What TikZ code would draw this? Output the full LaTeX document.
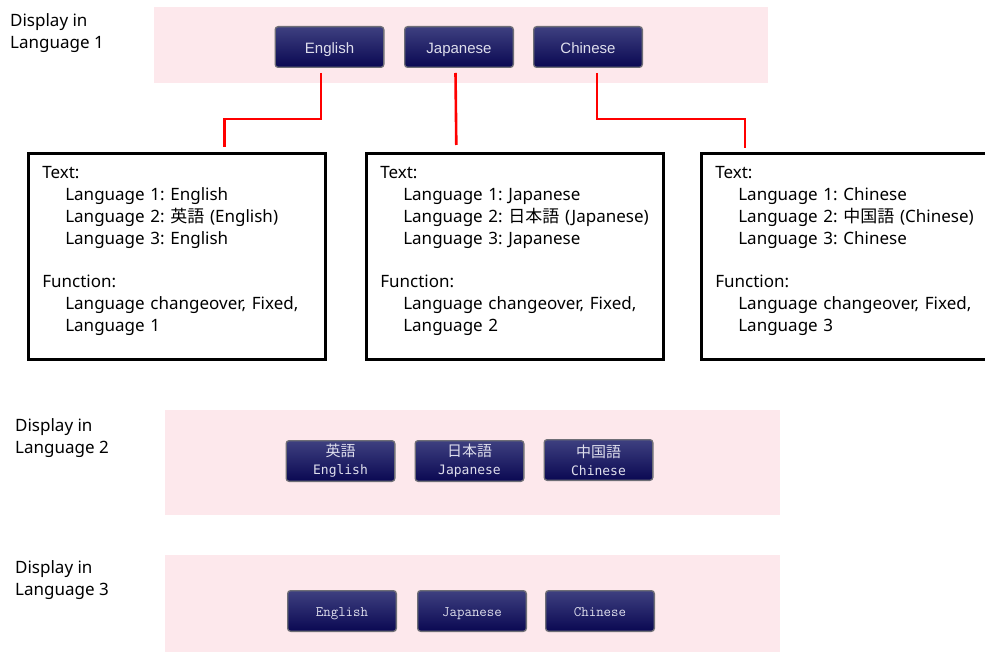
\documentclass[tikz,border=0pt]{standalone}
\usepackage{fontspec}
\setmainfont{Noto Sans}
\newfontfamily\cjkfont{Noto Sans CJK JP}
\newfontfamily\labelfont{Liberation Sans}
\newfontfamily\gothfont{DejaVu Sans Mono}
\newfontfamily\minchofont{Latin Modern Mono}
\usepackage{xcolor}
\definecolor{bandpink}{RGB}{253, 232, 236}
\definecolor{btntop}{RGB}{62, 64, 128}
\definecolor{btnbottom}{RGB}{10, 8, 82}
\definecolor{btnedge}{RGB}{110, 110, 118}
\definecolor{btntext}{RGB}{222, 222, 236}
\usetikzlibrary{positioning}
\tikzset{
  band/.style={fill=bandpink, draw=none},
  langbtn/.style={
    rectangle, rounded corners=3pt, draw=btnedge, line width=1.3pt,
    top color=btntop, bottom color=btnbottom, text=btntext,
    minimum width=108.7pt, minimum height=40.7pt, inner sep=0pt, align=center
  },
  lang1btn/.style={langbtn, font=\labelfont\fontsize{15}{16}\selectfont,
    text height=15pt, text depth=2pt},
  lang2btn/.style={langbtn, font=\gothfont\fontsize{13}{18}\selectfont},
  lang3btn/.style={langbtn, font=\minchofont\fontsize{14.5}{16}\selectfont,
    text height=12pt, text depth=1pt},
  propbox/.style={
    rectangle, draw=black, line width=2.6pt, anchor=north west,
    minimum width=296.4pt, minimum height=206.4pt,
    text width=269pt, inner xsep=14pt, align=left,
    font=\fontsize{17}{21.8}\selectfont
  },
  caption/.style={anchor=north west, align=left, inner sep=0pt,
    font=\fontsize{17}{22}\selectfont},
  link/.style={draw=red, line width=2.6pt},
}
\newcommand{\ind}{\hspace*{23pt}}
\newcommand{\jp}[1]{{\cjkfont #1}}
\newcommand{\lift}{\rule[-15pt]{0pt}{0pt}}
\frenchspacing

\begin{document}
\begin{tikzpicture}[x=1pt, y=-1pt]
  \clip (0,0) rectangle (985,652);
  \fill[white] (0,0) rectangle (985,652);

  % pink display areas
  \fill[band] (154,7) rectangle (768,83);
  \fill[band] (165,410) rectangle (780,515);
  \fill[band] (165,555) rectangle (780,652);

  \node[caption] (cap1) at (10,13) {Display in\\Language 1};
  \node[caption] (cap2) at (15,418) {Display in\\Language 2};
  \node[caption] (cap3) at (15,560) {Display in\\Language 3};

  % buttons, language 1
  \node[lang1btn] (en1) at (329.5,47) {English};
  \node[lang1btn] (ja1) at (459,47) {Japanese};
  \node[lang1btn] (zh1) at (588,47) {Chinese};

  % buttons, language 2
  \node[lang2btn] (en2) at (340.5,461) {{\cjkfont\fontsize{15}{18}\selectfont 英語}\\English};
  \node[lang2btn, right=19pt of en2] (ja2) {{\cjkfont\fontsize{15}{18}\selectfont 日本語}\\Japanese};
  \node[lang2btn, right=19pt of ja2, yshift=1pt] (zh2) {{\cjkfont\fontsize{15}{18}\selectfont 中国語}\\Chinese};

  % buttons, language 3
  \node[lang3btn] (en3) at (342,611) {English};
  \node[lang3btn] (ja3) at (472,611) {Japanese};
  \node[lang3btn] (zh3) at (600,611) {Chinese};

  % property boxes
  \node[propbox] (box1) at (27,152) {Text:\\
    \ind Language 1: English\\
    \ind Language 2: \jp{英語} (English)\\
    \ind Language 3: English\\[21.8pt]
    Function:\\
    \ind Language changeover, Fixed,\\
    \ind Language 1\lift};
  \node[propbox, minimum width=295.4pt] (box2) at (365,152) {Text:\\
    \ind Language 1: Japanese\\
    \ind Language 2: \jp{日本語} (Japanese)\\
    \ind Language 3: Japanese\\[21.8pt]
    Function:\\
    \ind Language changeover, Fixed,\\
    \ind Language 2\lift};
  \node[propbox] (box3) at (700,152) {Text:\\
    \ind Language 1: Chinese\\
    \ind Language 2: \jp{中国語} (Chinese)\\
    \ind Language 3: Chinese\\[21.8pt]
    Function:\\
    \ind Language changeover, Fixed,\\
    \ind Language 3\lift};

  % red links from buttons to boxes
  \draw[link] ([xshift=-8.5pt,yshift=-5pt]en1.south) -- ++(0,46)
    -| ([xshift=47.5pt,yshift=5pt]box1.north);
  \draw[link] ([xshift=-3.5pt,yshift=-5pt]ja1.south)
    -- ([xshift=-58.5pt,yshift=7pt]box2.north);
  \draw[link] ([xshift=9pt,yshift=-5pt]zh1.south) -- ++(0,46)
    -| ([xshift=-105pt,yshift=4pt]box3.north);
\end{tikzpicture}
\end{document}
